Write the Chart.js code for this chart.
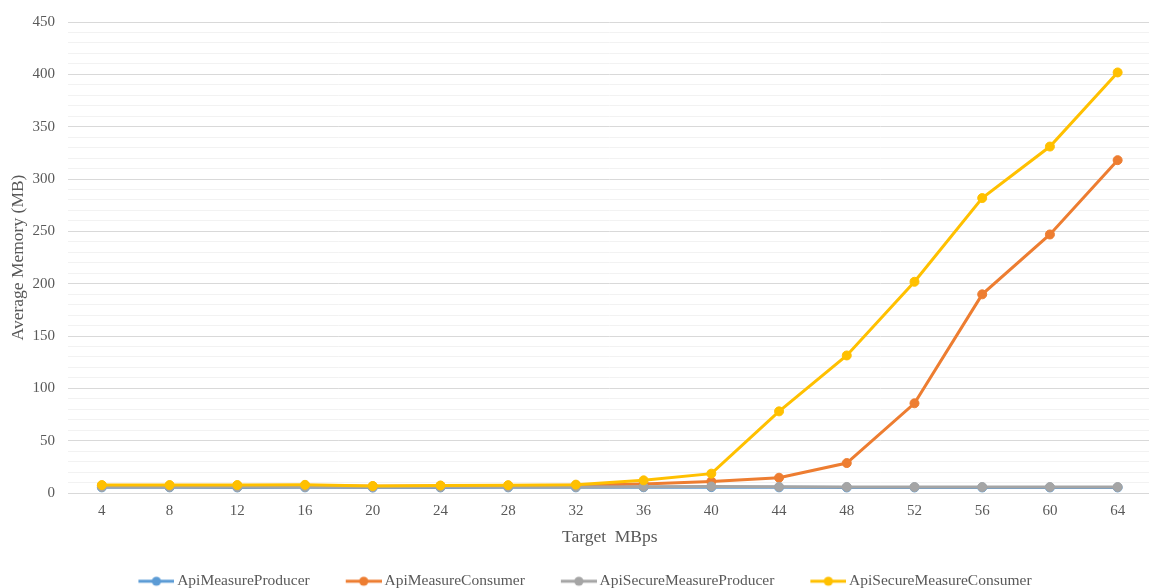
<!DOCTYPE html>
<html>
<head>
<meta charset="utf-8">
<title>Average Memory by Target MBps</title>
<script src="https://cdn.jsdelivr.net/npm/chart.js@4/dist/chart.umd.min.js"></script>
<style>
  html, body { margin: 0; padding: 0; background: #ffffff; overflow: hidden; }
  #wrap { width: 1179px; height: 599px; margin-left: -22px; }
  #chart { display: block; }
</style>
</head>
<body>
<div id="wrap"><canvas id="chart" width="1179" height="599"></canvas></div>
<script>
// Target throughput (MBps) on the category axis
const targetMBps = ['4', '8', '12', '16', '20', '24', '28', '32', '36', '40', '44', '48', '52', '56', '60', '64'];

// Average memory (MB) per test scenario
const apiMeasureProducer       = [5.4, 5.4, 5.3, 5.4, 5.2, 5.3, 5.4, 5.4, 5.5, 5.6, 5.4, 5.3, 5.3, 5.3, 5.3, 5.3];
const apiMeasureConsumer       = [7.0, 7.0, 7.0, 7.1, 6.4, 6.8, 7.0, 7.4, 8.6, 11.0, 14.6, 28.6, 85.7, 189.8, 247.0, 318.0];
const apiSecureMeasureProducer = [5.8, 5.8, 5.7, 5.8, 5.6, 5.7, 5.8, 5.8, 5.9, 6.2, 5.9, 5.8, 5.7, 5.7, 5.7, 5.7];
const apiSecureMeasureConsumer = [7.6, 7.6, 7.6, 7.8, 6.7, 7.2, 7.5, 8.0, 12.1, 18.5, 78.0, 131.4, 201.8, 281.8, 331.0, 401.8];

// Y axis: 0..450, labelled every 50 with lighter minor lines every 10
const yMin = 0;
const yMax = 450;
const yMinorStep = 10;
const yLabelStep = 50;

const seriesNames  = ['ApiMeasureProducer', 'ApiMeasureConsumer', 'ApiSecureMeasureProducer', 'ApiSecureMeasureConsumer'];
const seriesValues = [apiMeasureProducer, apiMeasureConsumer, apiSecureMeasureProducer, apiSecureMeasureConsumer];
const seriesColors = ['#5B9BD5', '#ED7D31', '#A5A5A5', '#FFC000'];
const drawOrder    = [3, 2, 1, 0]; // later series sit on top

const SERIF = "'Liberation Serif', 'Times New Roman', serif";
const TEXT = '#595959';

// Legend marker: a short line with a dot, at the right end of a wider transparent canvas
function legendMarker(color) {
  const c = document.createElement('canvas');
  c.width = 76; c.height = 12;
  const g = c.getContext('2d');
  g.strokeStyle = color;
  g.lineWidth = 3;
  g.beginPath();
  g.moveTo(40, 6);
  g.lineTo(76, 6);
  g.stroke();
  g.fillStyle = color;
  g.beginPath();
  g.arc(58, 6, 4.6, 0, Math.PI * 2);
  g.fill();
  return c;
}
const markers = seriesColors.map(legendMarker);

const datasets = seriesNames.map((name, i) => ({
  label: name,
  data: seriesValues[i],
  borderColor: seriesColors[i],
  backgroundColor: seriesColors[i],
  borderWidth: 3,
  pointRadius: 4.5,
  pointHoverRadius: 4.5,
  pointBorderWidth: 1,
  pointBackgroundColor: seriesColors[i],
  pointBorderColor: seriesColors[i],
  tension: 0,
  fill: false,
  order: drawOrder[i]
}));

new Chart(document.getElementById('chart'), {
  type: 'line',
  data: { labels: targetMBps, datasets },
  options: {
    responsive: false,
    devicePixelRatio: 1,
    animation: false,
    layout: { padding: { top: 18, left: 0, right: 0, bottom: 0 } },
    plugins: {
      tooltip: { enabled: false },
      legend: {
        position: 'bottom',
        align: 'center',
        labels: {
          usePointStyle: true,
          pointStyleWidth: 66,
          padding: 1,
          color: TEXT,
          font: { family: SERIF, size: 15.5 },
          sort: (a, b) => a.datasetIndex - b.datasetIndex,
          generateLabels: (chart) => {
            const items = Chart.defaults.plugins.legend.labels.generateLabels(chart);
            items.forEach(it => { it.pointStyle = markers[it.datasetIndex]; });
            return items;
          }
        }
      }
    },
    scales: {
      x: {
        offset: true,
        grid: { display: false, drawTicks: false },
        border: { display: true, color: '#D9D9D9', width: 1 },
        ticks: {
          color: TEXT,
          padding: 9,
          maxRotation: 0,
          autoSkip: false,
          font: { family: SERIF, size: 15 }
        },
        title: {
          display: true,
          text: 'Target  MBps',
          color: TEXT,
          font: { family: SERIF, size: 17.5 },
          padding: { top: 0, bottom: 25 }
        },
        afterFit: (scale) => { scale.height = 79.5; }
      },
      y: {
        min: yMin,
        max: yMax,
        border: { display: false },
        grid: {
          drawTicks: false,
          lineWidth: 1,
          color: (ctx) => (ctx.tick && ctx.tick.value % yLabelStep === 0) ? '#D9D9D9' : '#F2F2F2'
        },
        ticks: {
          stepSize: yMinorStep,
          maxTicksLimit: 100,
          autoSkip: false,
          padding: 13,
          color: TEXT,
          font: { family: SERIF, size: 15 },
          callback: (v) => (v % yLabelStep === 0 ? String(v) : '')
        },
        title: {
          display: true,
          text: 'Average Memory (MB)',
          color: TEXT,
          font: { family: SERIF, size: 17.5 },
          padding: { top: 30, bottom: 0 }
        },
        afterFit: (scale) => { scale.width = 90; }
      }
    }
  }
});
</script>
</body>
</html>
